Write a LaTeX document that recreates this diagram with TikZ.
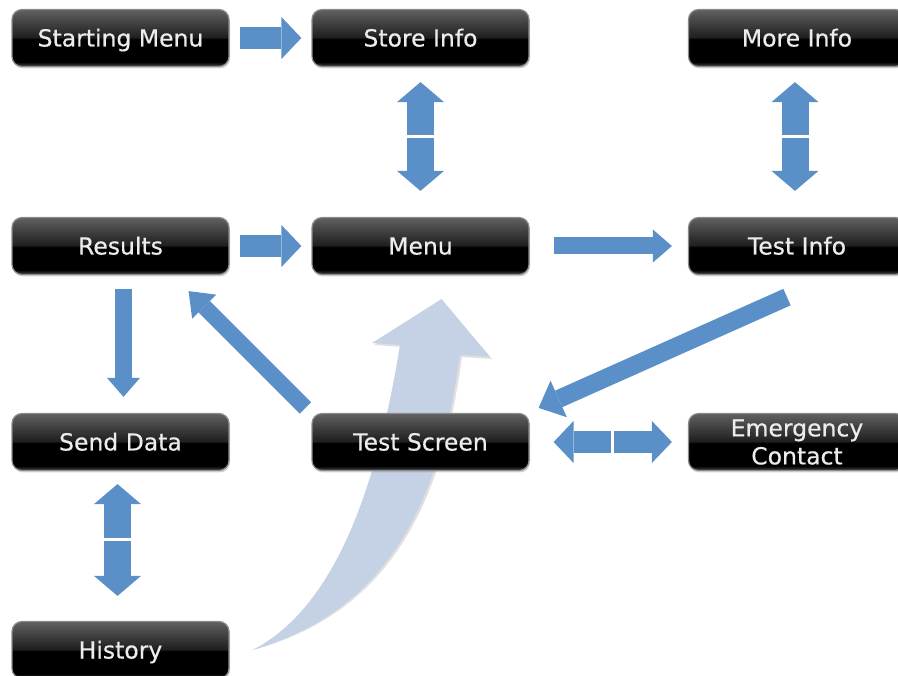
\documentclass[tikz,border=0pt]{standalone}
\usepackage{fontspec}
\setmainfont{DejaVu Sans}
\newfontfamily\nodefont{DejaVu Sans}[BoldFont={DejaVu Sans}, BoldFeatures={FakeBold=0.5}]
\usetikzlibrary{arrows.meta,calc,shadows,backgrounds}
\definecolor{arrowblue}{RGB}{91,143,199}
\definecolor{curveblue}{RGB}{197,210,230}
\definecolor{txtgray}{RGB}{236,236,236}
\pgfdeclareverticalshading{glossy}{100bp}{color(0bp)=(black); color(25bp)=(black!72); color(29bp)=(black); color(49bp)=(black); color(50.5bp)=(black!88); color(75bp)=(black!62); color(100bp)=(black!62)}
\tikzset{
  boxbase/.style={rounded corners=10pt, minimum width=217pt, minimum height=57pt, inner sep=0pt,
    draw=black!45, line width=1.2pt, shade, shading=glossy, text=txtgray,
    font=\nodefont\bfseries\fontsize{23.5}{28}\selectfont, align=center,
    drop shadow={opacity=0.35, shadow xshift=1pt, shadow yshift=-2pt}},
  box/.style={boxbase, text height=17pt, text depth=0pt},
  harrow/.style={draw=arrowblue, line width=22pt, -{Triangle[width=42pt,length=20pt,line width=0pt]}},
  varrow/.style={draw=arrowblue, line width=27pt, -{Triangle[width=47pt,length=20pt,line width=0pt]}},
  thinarrow/.style={draw=arrowblue, line width=17pt, -{Triangle[width=33pt,length=19pt,line width=0pt]}},
  diagarrow/.style={draw=arrowblue, line width=18pt, -{Triangle[width=40pt,length=22pt,line width=0pt]}},
}
\begin{document}
\begin{tikzpicture}[x=1pt,y=-1pt]
\useasboundingbox (0,0) rectangle (898,676);
% nodes
\node[box] (sm) at (120.5,38) {Starting Menu};
\node[box] (si) at (420.5,38) {Store Info};
\node[box] (mi) at (797,38) {More Info};
\node[box] (rs) at (120.5,246) {Results};
\node[box] (mn) at (420.5,246) {Menu};
\node[box] (ti) at (797,246) {Test Info};
\node[box] (sd) at (120.5,442) {Send Data};
\node[box] (ts) at (420.5,442) {Test Screen};
\node[boxbase] (ec) at (797,442) {Emergency\\Contact};
\node[box] (hi) at (120.5,650) {History};
% curved light arrow behind the nodes
\begin{scope}[on background layer]
\coordinate (cstart) at ([xshift=23pt]hi.east);
\coordinate (ctip) at ([xshift=21pt,yshift=-24pt]mn.south);
\fill[black, opacity=0.12, xshift=2pt, yshift=-2pt] (cstart) .. controls (330,610) and (375,500) .. (400,345)
  -- (372,343) -- (ctip) -- (490,357) -- (460,355)
  .. controls (440,500) and (390,610) .. (cstart) -- cycle;
\fill[curveblue] (cstart) .. controls (330,610) and (375,500) .. (400,345)
  -- (372,343) -- (ctip) -- (490,357) -- (460,355)
  .. controls (440,500) and (390,610) .. (cstart) -- cycle;
\end{scope}
% single arrows
\draw[harrow] ([xshift=10pt]sm.east) -- ([xshift=-10pt]si.west);
\draw[harrow] ([xshift=10pt]rs.east) -- ([xshift=-10pt]mn.west);
\draw[thinarrow] ([xshift=24pt]mn.east) -- ([xshift=-16pt]ti.west);
\draw[thinarrow] ([xshift=3pt,yshift=-14pt]rs.south) -- ([xshift=3pt,yshift=16pt]sd.north);
\draw[diagarrow] ([xshift=-10pt,yshift=-22pt]ti.south) -- ([xshift=9pt,yshift=5pt]ts.north east);
\draw[draw=arrowblue, line width=16pt, -{Triangle[width=34pt,length=22pt,line width=0pt]}]
  ([xshift=-6pt,yshift=5pt]ts.north west) -- ([xshift=-41pt,yshift=-16pt]rs.south east);
% double arrows with a gap
\path ([yshift=-15pt]si.south) coordinate (a1) ([yshift=26pt]mn.north) coordinate (b1);
\coordinate (c1) at ($(a1)!0.5!(b1)$);
\draw[varrow, shorten <=1.5pt] (c1) -- (a1);
\draw[varrow, shorten <=1.5pt] (c1) -- (b1);
\path ([xshift=-2pt,yshift=-15pt]mi.south) coordinate (a2) ([xshift=-2pt,yshift=26pt]ti.north) coordinate (b2);
\coordinate (c2) at ($(a2)!0.5!(b2)$);
\draw[varrow, shorten <=1.5pt] (c2) -- (a2);
\draw[varrow, shorten <=1.5pt] (c2) -- (b2);
\path ([xshift=-3pt,yshift=-13pt]sd.south) coordinate (a3) ([xshift=-3pt,yshift=25pt]hi.north) coordinate (b3);
\coordinate (c3) at ($(a3)!0.5!(b3)$);
\draw[varrow, shorten <=1.5pt] (c3) -- (a3);
\draw[varrow, shorten <=1.5pt] (c3) -- (b3);
\path ([xshift=24pt]ts.east) coordinate (a4) ([xshift=-16pt]ec.west) coordinate (b4);
\coordinate (c4) at ($(a4)!0.5!(b4)$);
\draw[harrow, shorten <=1.5pt] (c4) -- (a4);
\draw[harrow, shorten <=1.5pt] (c4) -- (b4);
\end{tikzpicture}
\end{document}
